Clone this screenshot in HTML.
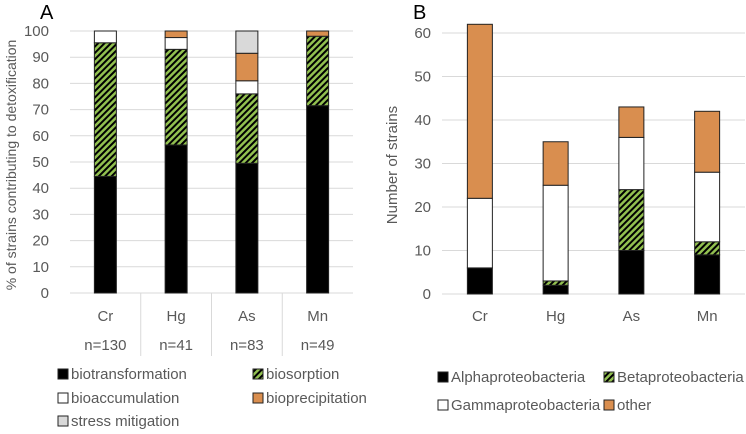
<!DOCTYPE html>
<html><head><meta charset="utf-8"><style>
body{margin:0;background:#fff;}
svg{display:block;font-family:"Liberation Sans",sans-serif;}
</style></head><body>
<svg id="c" width="746" height="434" xmlns="http://www.w3.org/2000/svg">
<defs>
<pattern id="hatch" patternUnits="userSpaceOnUse" width="4.5" height="4.5" patternTransform="rotate(45)">
<rect width="4.5" height="4.5" fill="#92c050"/><rect width="2" height="4.5" fill="#000"/>
</pattern>
</defs>
</svg>
<script>
const catsA=["Cr","Hg","As","Mn"];
const nLabels=["n=130","n=41","n=83","n=49"];
const biotrans=[44.5,56.5,49.5,71.5];
const biosorp=[51,36.5,26.5,26.5];
const bioacc=[4.5,4.5,5,0];
const bioprec=[0,2.5,10.5,2];
const stress=[0,0,8.5,0];
const ticksA=[0,10,20,30,40,50,60,70,80,90,100];
const catsB=["Cr","Hg","As","Mn"];
const alpha=[6,2,10,9];
const beta=[0,1,14,3];
const gamma=[16,22,12,16];
const other=[40,10,7,14];
const ticksB=[0,10,20,30,40,50,60];

const svg=document.getElementById('c');
const NS="http://www.w3.org/2000/svg";
function mk(t,a,p){const e=document.createElementNS(NS,t);for(const k in a)e.setAttribute(k,a[k]);(p||svg).appendChild(e);return e;}
function txt(x,y,s,size,anchor,fill,p){const e=mk('text',{x:x,y:y,'font-size':size,'text-anchor':anchor||'middle',fill:fill||'#595959'},p);e.textContent=s;return e;}
const fills=["#000","url(#hatch)","#fff","#d98e4f","#d9d9d9"];
const FS=15;

// Panel A
const gA=mk('g',{});


const aX0=70,aX1=353,aY0=293,aY1=31;
const yA=v=>aY0-(v/100)*(aY0-aY1);
const bwA=(aX1-aX0)/4;
ticksA.forEach(t=>{
 const l=mk('line',{x1:aX0,x2:aX1,y1:yA(t),y2:yA(t),stroke:'#d9d9d9','stroke-width':1},gA);
 
 
 const tx=txt(49,yA(t)+5,String(t),FS,'end',null,gA);
 
 
});
for(let i=1;i<4;i++){const l=mk('line',{x1:aX0+bwA*i,x2:aX0+bwA*i,y1:aY0,y2:356,stroke:'#d9d9d9'},gA);
 
 }
const seriesA=[biotrans,biosorp,bioacc,bioprec,stress];
catsA.forEach((c,i)=>{
 const cx=aX0+bwA*(i+0.5);let base=0;
 seriesA.forEach((s,k)=>{const v=s[i];if(v<=0)return;
  const r=mk('rect',{x:cx-11,y:yA(base+v),width:22,height:yA(base)-yA(base+v),fill:fills[k],stroke:'#222','stroke-width':1},gA);
  
  
  base+=v;});
 const t1=txt(cx,321,c,FS,'middle',null,gA);
 
 
 const t2=txt(cx,350,nLabels[i],FS,'middle',null,gA);
 
 
});
const tA=txt(0,0,"% of strains contributing to detoxification",14,'middle',null,gA);
tA.setAttribute('transform','translate(16,165) rotate(-90)');


const hA=txt(40,19,"A",20,'start','#000',gA);


const legA=[["biotransformation",58,379],["biosorption",253,379],["bioaccumulation",58,403],["bioprecipitation",253,403],["stress mitigation",58,426]];
legA.forEach((L,k)=>{
 const r=mk('rect',{x:L[1],y:L[2]-10,width:10,height:10,fill:fills[k],stroke:'#222'},gA);
 
 
 const t=txt(L[1]+13,L[2],L[0],FS,'start',null,gA);
 
 
});

// Panel B
const gB=mk('g',{});


const bX0=442,bX1=745,bY0=294,bY1=33;
const yB=v=>bY0-(v/60)*(bY0-bY1);
const bwB=(bX1-bX0)/4;
ticksB.forEach(t=>{
 const l=mk('line',{x1:bX0,x2:bX1,y1:yB(t),y2:yB(t),stroke:'#d9d9d9'},gB);
 
 
 const tx=txt(431,yB(t)+5,String(t),FS,'end',null,gB);
 
 
});
const seriesB=[alpha,beta,gamma,other];
const fillsB=["#000","url(#hatch)","#fff","#d98e4f"];
catsB.forEach((c,i)=>{
 const cx=bX0+bwB*(i+0.5);let base=0;
 seriesB.forEach((s,k)=>{const v=s[i];if(v<=0)return;
  const r=mk('rect',{x:cx-12.5,y:yB(base+v),width:25,height:yB(base)-yB(base+v),fill:fillsB[k],stroke:'#222'},gB);
  
  
  base+=v;});
 const t1=txt(cx,321,c,FS,'middle',null,gB);
 
 
});
const tB=txt(0,0,"Number of strains",15,'middle',null,gB);
tB.setAttribute('transform','translate(397,165) rotate(-90)');


const hB=txt(413,19,"B",20,'start','#000',gB);


const legB=[["Alphaproteobacteria",438,382],["Betaproteobacteria",604,382],["Gammaproteobacteria",438,410],["other",604,410]];
legB.forEach((L,k)=>{
 const r=mk('rect',{x:L[1],y:L[2]-10,width:10,height:10,fill:fillsB[k],stroke:'#222'},gB);
 
 
 const t=txt(L[1]+13,L[2],L[0],FS,'start',null,gB);
 
 
});
</script>
</body></html>
